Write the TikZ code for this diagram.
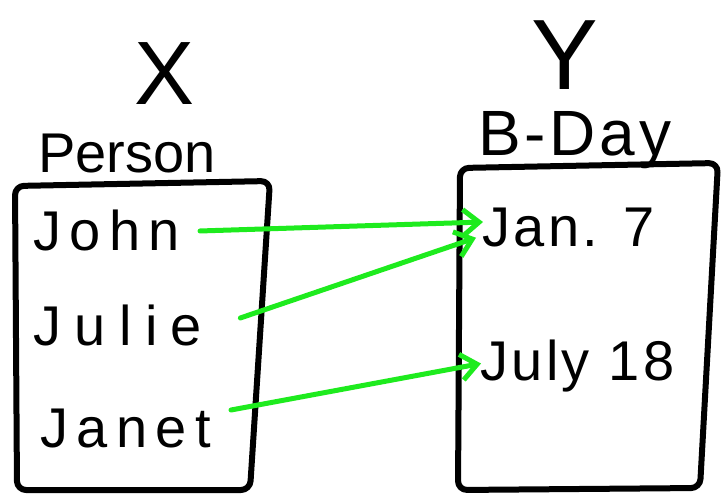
\documentclass[tikz,border=0pt]{standalone}
\usepackage{fontspec}
\setmainfont{Liberation Sans}
\newfontfamily\hand[LetterSpace=15]{Liberation Sans}
\newfontfamily\handtight[LetterSpace=6]{Liberation Sans}
\newfontfamily\handwide[LetterSpace=24]{Liberation Sans}
\usetikzlibrary{arrows.meta}
\definecolor{pen}{RGB}{30,235,30}
\begin{document}
\begin{tikzpicture}[x=1pt,y=-1pt,
  box/.style={line width=6pt, line cap=round, line join=round, rounded corners=9pt},
  lbl/.style={font=\hand\fontsize{56}{60}\selectfont, inner sep=0pt, anchor=base west},
  lbltight/.style={lbl, font=\handtight\fontsize{56}{60}\selectfont},
  head/.style={font=\handtight\fontsize{64}{70}\selectfont, inner sep=0pt, anchor=base west},
  var/.style={font=\fontsize{90}{96}\selectfont, inner sep=0pt, anchor=base},
  map/.style={draw=pen, line width=5pt, line cap=round,
    -{Straight Barb[length=16pt,width=26pt,line width=5pt]}}]
\useasboundingbox (0,0) rectangle (721,495);
% boxes
\draw[box] (15,186) -- (270,181) -- (250,490) -- (17,490) -- cycle;
\draw[box] (460,168) -- (718,163) -- (700,488) -- (458,490) -- cycle;
% headings
\node[var] (x) at (165,105) {X};
\node[var, font=\fontsize{100}{106}\selectfont] (y) at (565,90) {Y};
\node[head, font=\fontsize{56}{62}\selectfont] (person) at (38,172) {Person};
\node[head] (bday) at (478,155) {B-Day};
% items
\node[lbl] (john) at (33,250) {John};
\node[lbl, font=\handwide\fontsize{56}{60}\selectfont] (julie) at (33,345) {Julie};
\node[lbl] (janet) at (40,447) {Janet};
\node[lbltight] (jan) at (482,246) {Jan. 7};
\node[lbltight] (july) at (480,380) {July 18};
% mappings
\draw[map] ([shift={(20,1)}]john.east) -- ([shift={(1,-5)}]jan.west);
\draw[map] ([shift={(38,-7)}]julie.east) -- ([shift={(-6,-9)}]jan.south west);
\draw[map] ([shift={(20,-18)}]janet.east) -- ([shift={(1,-2)}]july.west);
\end{tikzpicture}
\end{document}
